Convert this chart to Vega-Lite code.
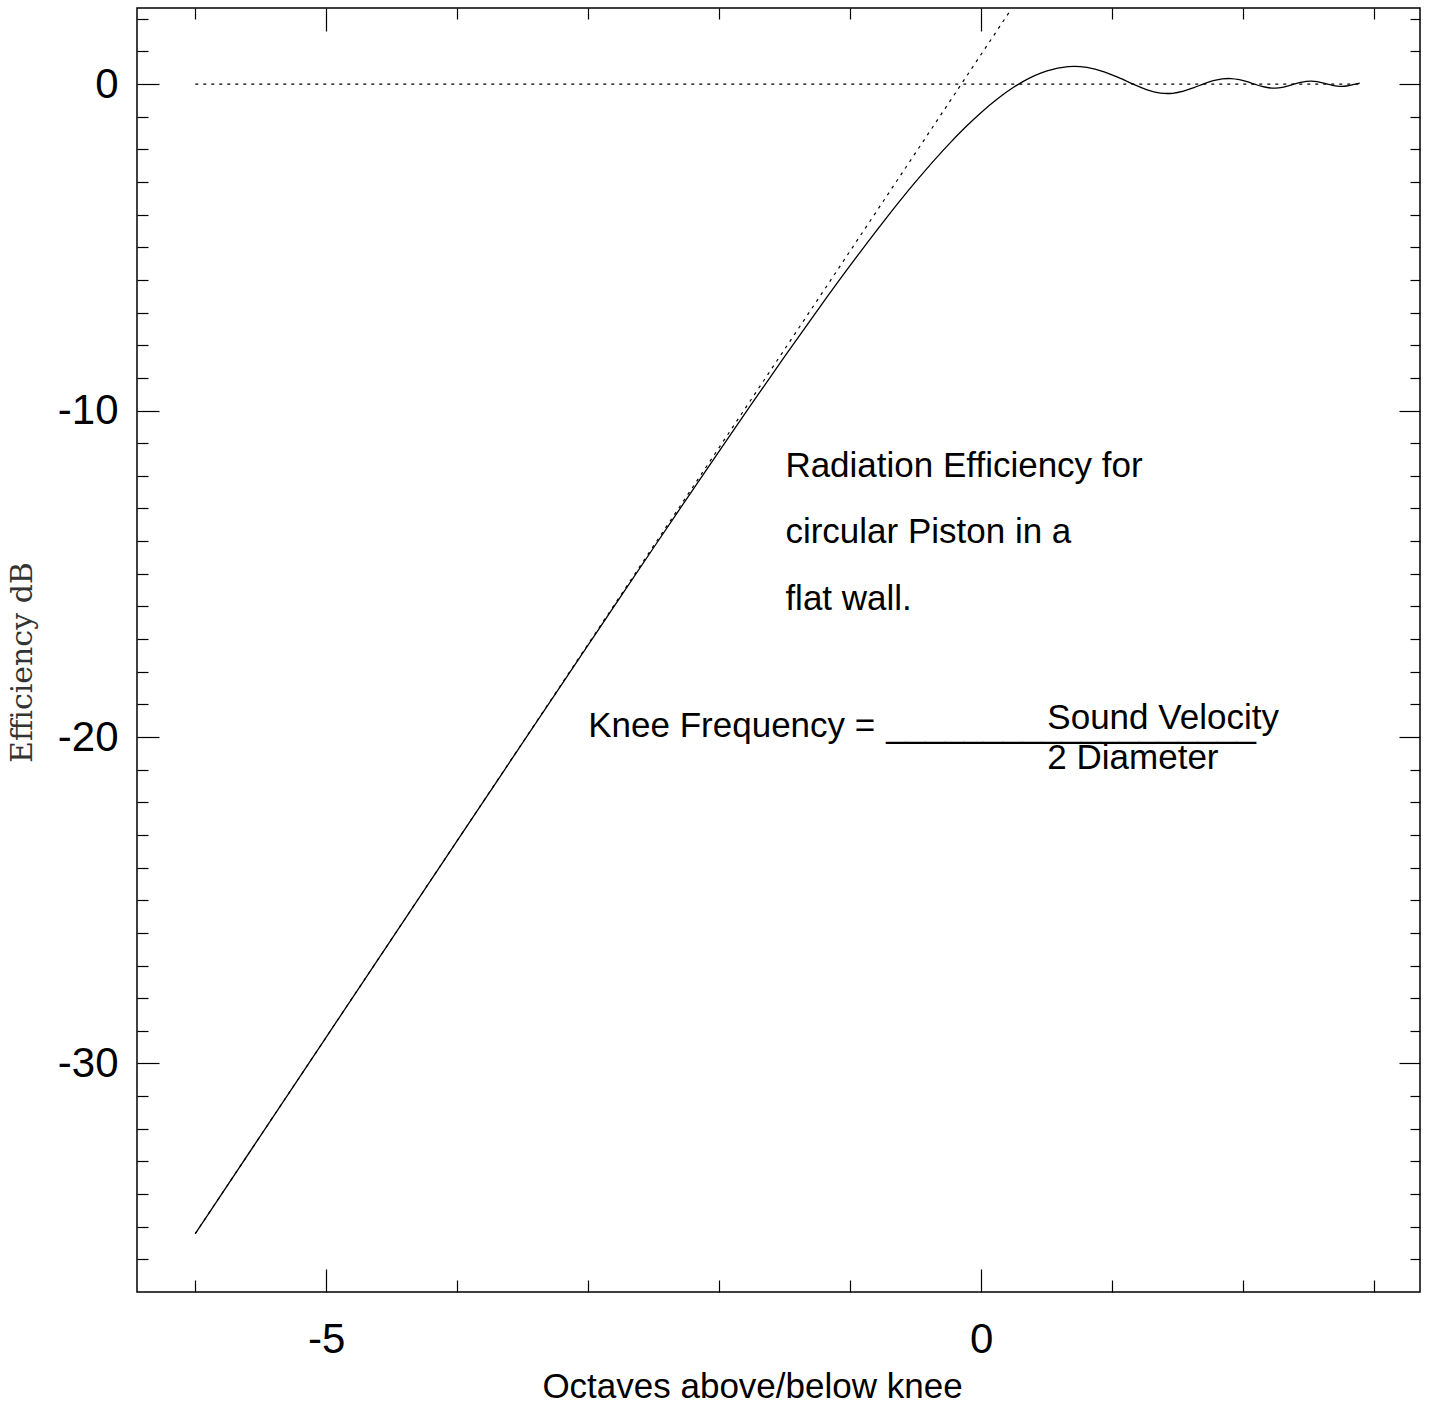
{
  "$schema": "https://vega.github.io/schema/vega-lite/v6.json",
  "width": 1283,
  "height": 1284,
  "autosize": {"type": "none"},
  "padding": {"left": 137, "top": 8, "right": 9, "bottom": 114},
  "background": "white",
  "config": {
    "view": {"stroke": "black", "strokeWidth": 1.5},
    "axis": {"domain": false, "grid": false, "labelFont": "Liberation Sans", "titleFont": "Liberation Sans", "tickColor": "black", "tickWidth": 1.2, "labelColor": "black", "titleColor": "black", "titleFontWeight": "normal"}
  },
  "datasets": {
    "curve": [
      {"x": -6, "y": -35.2119}, {"x": -5.5, "y": -32.2021}, {"x": -5, "y": -29.1927}, {"x": -4.5, "y": -26.1841},
      {"x": -4, "y": -23.1773}, {"x": -3.5, "y": -20.174}, {"x": -3, "y": -17.1776}, {"x": -2.75, "y": -15.684},
      {"x": -2.5, "y": -14.1952}, {"x": -2.25, "y": -12.7132}, {"x": -2, "y": -11.2408}, {"x": -1.75, "y": -9.7818},
      {"x": -1.5, "y": -8.3421}, {"x": -1.25, "y": -6.9293}, {"x": -1, "y": -5.5551}, {"x": -0.75, "y": -4.2344},
      {"x": -0.5, "y": -2.9905}, {"x": -0.25, "y": -1.8541}, {"x": -0.125, "y": -1.339}, {"x": 0, "y": -0.8682},
      {"x": 0.125, "y": -0.4494}, {"x": 0.25, "y": -0.0916}, {"x": 0.321928, "y": 0.0829}, {"x": 0.5025, "y": 0.4048},
      {"x": 0.66296, "y": 0.5327}, {"x": 0.70905, "y": 0.5395}, {"x": 0.807355, "y": 0.5086}, {"x": 0.938599, "y": 0.3762},
      {"x": 1.058894, "y": 0.1832}, {"x": 1.169925, "y": -0.0195}, {"x": 1.273018, "y": -0.1839}, {"x": 1.369234, "y": -0.2755},
      {"x": 1.421849, "y": -0.2895}, {"x": 1.459432, "y": -0.2823}, {"x": 1.544321, "y": -0.2169}, {"x": 1.624492, "y": -0.1088},
      {"x": 1.70044, "y": 0.0078}, {"x": 1.77259, "y": 0.1033}, {"x": 1.841302, "y": 0.1592}, {"x": 1.887012, "y": 0.1704},
      {"x": 1.906891, "y": 0.1682}, {"x": 1.969627, "y": 0.1346}, {"x": 2.029747, "y": 0.0711}, {"x": 2.087463, "y": -0.004},
      {"x": 2.142957, "y": -0.0708}, {"x": 2.196397, "y": -0.113}, {"x": 2.235643, "y": -0.123}, {"x": 2.247928, "y": -0.122},
      {"x": 2.297681, "y": -0.0987}, {"x": 2.345776, "y": -0.0524}, {"x": 2.392317, "y": 0.0024}, {"x": 2.437404, "y": 0.051},
      {"x": 2.481127, "y": 0.082}, {"x": 2.5152, "y": 0.0899}, {"x": 2.523562, "y": 0.0894}, {"x": 2.564785, "y": 0.0734},
      {"x": 2.604864, "y": 0.0399}, {"x": 2.643856, "y": -0.0015}, {"x": 2.681824, "y": -0.0397}, {"x": 2.718819, "y": -0.065},
      {"x": 2.74884, "y": -0.0719}, {"x": 2.754888, "y": -0.0716}, {"x": 2.790077, "y": -0.0591}, {"x": 2.824428, "y": -0.0322},
      {"x": 2.857981, "y": 0.0011}, {"x": 2.89, "y": 0.031}
    ],
    "asymptote": [
      {"x": -6, "y": -35.2115}, {"x": 0.22, "y": 2.2366}
    ],
    "unity": [
      {"x": -6, "y": 0}, {"x": 2.89, "y": 0}
    ],
    "notes": [
      {"x": -1.495, "y": -12.05, "text": "Radiation Efficiency for"},
      {"x": -1.495, "y": -14.05, "text": "circular Piston in a"},
      {"x": -1.495, "y": -16.1, "text": "flat wall."},
      {"x": -3.0, "y": -20.0, "text": "Knee Frequency ="},
      {"x": -0.725, "y": -20.0, "text": "___________________"},
      {"x": 0.505, "y": -19.74, "text": "Sound Velocity"},
      {"x": 0.505, "y": -20.99, "text": "2 Diameter"}
    ]
  },
  "layer": [
    {
      "data": {"name": "curve"},
      "mark": {"type": "line", "interpolate": "monotone", "color": "black", "strokeWidth": 1.3},
      "encoding": {
        "x": {"field": "x", "type": "quantitative", "scale": {"domain": [-6.445, 3.35], "nice": false, "zero": false},
          "axis": {"orient": "bottom", "values": [-6, -5, -4, -3, -2, -1, 0, 1, 2, 3], "labels": false, "title": null,
            "tickSize": {"condition": {"test": "datum.value === -5 || datum.value === 0", "value": -23}, "value": -12}}},
        "y": {"field": "y", "type": "quantitative", "scale": {"domain": [-37, 2.33], "nice": false, "zero": false},
          "axis": {"orient": "left", "values": [-36, -35, -34, -33, -32, -31, -30, -29, -28, -27, -26, -25, -24, -23, -22, -21, -20, -19, -18, -17, -16, -15, -14, -13, -12, -11, -10, -9, -8, -7, -6, -5, -4, -3, -2, -1, 0, 1, 2], "labels": false, "title": null,
            "tickSize": {"condition": {"test": "datum.value % 10 === 0", "value": -22}, "value": -11}}}
      }
    },
    {
      "data": {"name": "asymptote"},
      "mark": {"type": "line", "color": "black", "strokeWidth": 1.2, "strokeDash": [3, 5], "clip": true},
      "encoding": {
        "x": {"field": "x", "type": "quantitative",
          "axis": {"orient": "bottom", "values": [-5, 0], "ticks": false, "tickSize": 0, "labelPadding": 27, "labelFontSize": 42,
            "labelExpr": "toString(datum.value)",
            "title": "Octaves above/below knee", "titleFontSize": 35, "titleX": 615, "titleY": 105, "titleAlign": "center", "titleAnchor": null, "titleBaseline": "alphabetic"}},
        "y": {"field": "y", "type": "quantitative",
          "axis": {"orient": "left", "values": [-30, -20, -10, 0], "ticks": false, "tickSize": 0, "labelPadding": 19, "labelFontSize": 42,
            "labelExpr": "toString(datum.value)",
            "title": "Efficiency dB", "titleFont": "DejaVu Serif", "titleFontSize": 30, "titleColor": "#333", "titleAngle": -90,
            "titleX": -115, "titleY": 654, "titleAlign": "center", "titleAnchor": null, "titleBaseline": "middle"}}
      }
    },
    {
      "data": {"name": "unity"},
      "mark": {"type": "line", "color": "black", "strokeWidth": 1.2, "strokeDash": [3, 5]},
      "encoding": {
        "x": {"field": "x", "type": "quantitative",
          "axis": {"orient": "top", "values": [-6, -5, -4, -3, -2, -1, 0, 1, 2, 3], "labels": false, "title": null,
            "tickSize": {"condition": {"test": "datum.value === -5 || datum.value === 0", "value": -23}, "value": -11}}},
        "y": {"field": "y", "type": "quantitative",
          "axis": {"orient": "right", "values": [-36, -35, -34, -33, -32, -31, -30, -29, -28, -27, -26, -25, -24, -23, -22, -21, -20, -19, -18, -17, -16, -15, -14, -13, -12, -11, -10, -9, -8, -7, -6, -5, -4, -3, -2, -1, 0, 1, 2], "labels": false, "title": null,
            "tickSize": {"condition": {"test": "datum.value % 10 === 0", "value": -21}, "value": -10}}}
      }
    },
    {
      "data": {"name": "notes"},
      "mark": {"type": "text", "align": "left", "baseline": "alphabetic", "font": "Liberation Sans", "fontSize": 35, "color": "black"},
      "encoding": {
        "x": {"field": "x", "type": "quantitative", "axis": null},
        "y": {"field": "y", "type": "quantitative", "axis": null},
        "text": {"field": "text", "type": "nominal"}
      }
    }
  ],
  "resolve": {"axis": {"x": "independent", "y": "independent"}}
}
